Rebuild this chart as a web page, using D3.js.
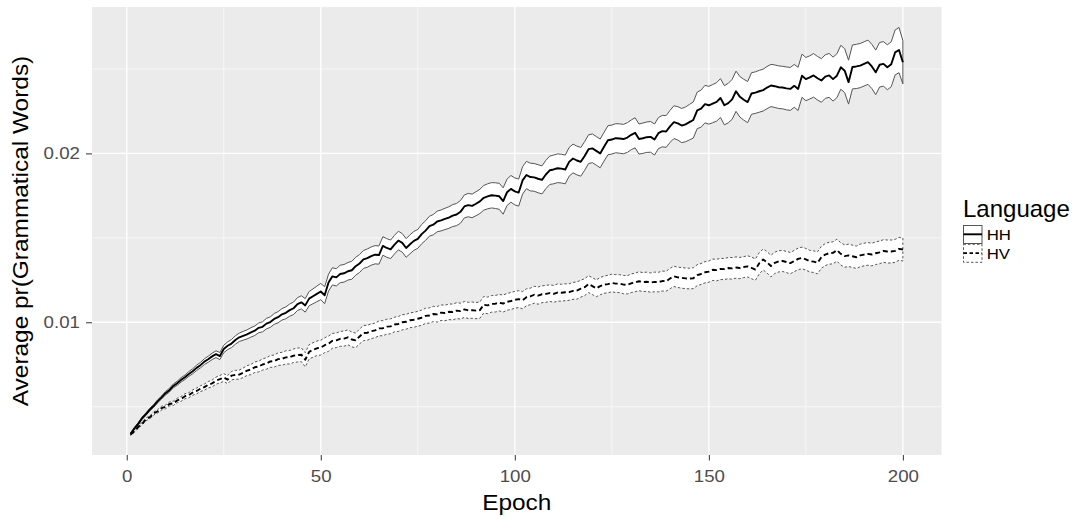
<!DOCTYPE html>
<html><head><meta charset="utf-8">
<script src="https://cdn.jsdelivr.net/npm/d3@7"></script>
<style>
body{margin:0;background:#fff}
text{font-family:"Liberation Sans",Arial,sans-serif}
</style>
</head><body>
<svg id="chart" width="1076" height="519"></svg>
<script>
// ---- data (epochs 1..200) ----
const languages = ["HH", "HV"];
const xTicks = [0, 50, 100, 150, 200];
const xMinorTicks = [25, 75, 125, 175];
const yTicks = [0.01, 0.02];
const yMinorTicks = [0.005, 0.015, 0.025];

const HH_mean = [
.00340,.00372,.00400,.00433,.00457,.00484,.00506,.00533,.00555,.00580,
.00598,.00623,.00639,.00659,.00674,.00694,.00710,.00730,.00746,.00767,
.00781,.00798,.00811,.00800,.00842,.00861,.00874,.00895,.00911,.00920,
.00928,.00940,.00950,.00967,.00973,.00992,.01001,.01020,.01030,.01047,
.01056,.01072,.01083,.01108,.01118,.01100,.01140,.01154,.01168,.01182,
.01160,.01235,.01272,.01266,.01286,.01290,.01302,.01308,.01332,.01348,
.01372,.01380,.01392,.01400,.01398,.01452,.01440,.01432,.01460,.01484,
.01470,.01440,.01462,.01482,.01494,.01522,.01543,.01569,.01578,.01597,
.01603,.01612,.01620,.01632,.01638,.01654,.01686,.01694,.01689,.01702,
.01716,.01737,.01746,.01752,.01750,.01746,.01718,.01770,.01790,.01775,
.01768,.01840,.01872,.01860,.01858,.01850,.01843,.01875,.01900,.01905,
.01912,.01910,.01905,.01950,.01970,.01958,.01950,.01985,.02025,.02030,
.02015,.02000,.02040,.02078,.02082,.02090,.02088,.02085,.02094,.02110,
.02122,.02085,.02090,.02096,.02098,.02082,.02120,.02132,.02130,.02160,
.02185,.02178,.02165,.02172,.02185,.02198,.02255,.02265,.02292,.02285,
.02295,.02305,.02328,.02285,.02298,.02320,.02368,.02335,.02318,.02304,
.02355,.02360,.02368,.02375,.02390,.02402,.02398,.02392,.02390,.02385,
.02382,.02400,.02382,.02460,.02440,.02450,.02462,.02445,.02432,.02455,
.02462,.02440,.02460,.02510,.02490,.02422,.02512,.02515,.02520,.02530,
.02540,.02515,.02480,.02525,.02530,.02510,.02528,.02598,.02612,.02540
];
const HH_se = [
.00005,.00006,.00006,.00007,.00007,.00008,.00008,.00009,.00009,.00010,
.00011,.00011,.00012,.00013,.00013,.00014,.00015,.00016,.00016,.00017,
.00018,.00019,.00020,.00021,.00022,.00023,.00024,.00025,.00025,.00026,
.00027,.00028,.00028,.00029,.00030,.00031,.00031,.00032,.00033,.00034,
.00035,.00036,.00037,.00038,.00039,.00040,.00042,.00044,.00046,.00048,
.00050,.00050,.00051,.00051,.00052,.00052,.00052,.00053,.00053,.00053,
.00053,.00054,.00054,.00054,.00054,.00055,.00055,.00055,.00055,.00055,
.00055,.00055,.00056,.00056,.00056,.00057,.00058,.00059,.00060,.00061,
.00062,.00063,.00064,.00065,.00066,.00067,.00068,.00069,.00070,.00071,
.00072,.00073,.00074,.00075,.00076,.00077,.00078,.00078,.00079,.00080,
.00080,.00081,.00081,.00082,.00082,.00083,.00083,.00084,.00084,.00085,
.00085,.00085,.00085,.00085,.00085,.00085,.00085,.00085,.00085,.00085,
.00085,.00085,.00085,.00086,.00086,.00086,.00087,.00087,.00088,.00088,
.00089,.00089,.00090,.00090,.00091,.00092,.00092,.00093,.00094,.00095,
.00097,.00099,.00101,.00103,.00105,.00107,.00108,.00110,.00111,.00112,
.00113,.00114,.00115,.00116,.00117,.00118,.00119,.00120,.00121,.00122,
.00123,.00123,.00124,.00124,.00125,.00125,.00126,.00126,.00126,.00127,
.00127,.00127,.00128,.00128,.00128,.00128,.00129,.00129,.00129,.00129,
.00130,.00130,.00130,.00130,.00130,.00130,.00130,.00131,.00131,.00131,
.00131,.00131,.00132,.00132,.00132,.00133,.00133,.00133,.00134,.00128
];
const HV_mean = [
.00335,.00356,.00381,.00400,.00426,.00438,.00461,.00473,.00492,.00499,
.00516,.00520,.00537,.00546,.00562,.00568,.00584,.00593,.00607,.00616,
.00630,.00638,.00654,.00663,.00673,.00660,.00684,.00689,.00690,.00701,
.00714,.00720,.00734,.00738,.00750,.00756,.00768,.00770,.00782,.00784,
.00792,.00793,.00802,.00806,.00808,.00778,.00825,.00836,.00846,.00850,
.00864,.00873,.00890,.00893,.00902,.00903,.00911,.00898,.00893,.00916,
.00936,.00938,.00947,.00952,.00964,.00965,.00974,.00976,.00987,.00990,
.01000,.01003,.01012,.01015,.01021,.01027,.01038,.01040,.01049,.01047,
.01057,.01055,.01062,.01061,.01069,.01066,.01076,.01070,.01072,.01069,
.01072,.01104,.01100,.01109,.01110,.01116,.01111,.01121,.01126,.01133,
.01137,.01131,.01148,.01153,.01163,.01158,.01166,.01168,.01173,.01168,
.01176,.01175,.01178,.01179,.01186,.01188,.01199,.01208,.01226,.01214,
.01201,.01214,.01223,.01226,.01233,.01229,.01229,.01223,.01222,.01231,
.01236,.01243,.01238,.01240,.01235,.01239,.01238,.01244,.01243,.01259,
.01272,.01266,.01263,.01260,.01259,.01261,.01279,.01286,.01296,.01300,
.01311,.01309,.01316,.01315,.01321,.01319,.01324,.01321,.01327,.01331,
.01322,.01312,.01350,.01372,.01355,.01333,.01352,.01361,.01363,.01357,
.01350,.01363,.01375,.01381,.01373,.01362,.01359,.01352,.01385,.01401,
.01409,.01411,.01427,.01405,.01392,.01396,.01391,.01385,.01396,.01401,
.01405,.01401,.01409,.01414,.01422,.01419,.01419,.01423,.01435,.01431
];
const HV_se = [
.00005,.00006,.00007,.00007,.00008,.00009,.00009,.00010,.00011,.00011,
.00012,.00013,.00013,.00014,.00015,.00015,.00016,.00017,.00017,.00018,
.00019,.00020,.00021,.00022,.00023,.00024,.00025,.00026,.00027,.00028,
.00029,.00030,.00031,.00032,.00033,.00034,.00035,.00036,.00037,.00038,
.00039,.00040,.00040,.00041,.00041,.00042,.00042,.00043,.00043,.00044,
.00044,.00045,.00044,.00043,.00044,.00045,.00044,.00044,.00043,.00044,
.00045,.00044,.00044,.00043,.00044,.00045,.00044,.00044,.00043,.00044,
.00045,.00044,.00044,.00044,.00044,.00045,.00045,.00045,.00045,.00046,
.00046,.00046,.00046,.00047,.00047,.00047,.00047,.00048,.00048,.00048,
.00048,.00049,.00049,.00049,.00049,.00049,.00050,.00050,.00050,.00050,
.00050,.00051,.00050,.00049,.00050,.00051,.00050,.00050,.00049,.00050,
.00051,.00050,.00050,.00049,.00050,.00051,.00050,.00050,.00050,.00050,
.00050,.00051,.00051,.00052,.00052,.00053,.00053,.00054,.00054,.00055,
.00055,.00056,.00056,.00057,.00057,.00058,.00058,.00059,.00059,.00060,
.00060,.00060,.00061,.00061,.00061,.00062,.00062,.00062,.00063,.00063,
.00063,.00064,.00063,.00062,.00063,.00064,.00063,.00063,.00062,.00063,
.00064,.00063,.00063,.00062,.00063,.00064,.00063,.00063,.00062,.00063,
.00063,.00063,.00064,.00064,.00064,.00064,.00064,.00065,.00065,.00065,
.00065,.00065,.00065,.00066,.00066,.00066,.00066,.00066,.00067,.00067,
.00067,.00067,.00067,.00067,.00067,.00068,.00068,.00068,.00068,.00068
];

// ---- layout ----
const svg = d3.select("#chart");
const P = {left: 92, right: 941.5, top: 7, bottom: 455};
const x = d3.scaleLinear().domain([-8.95, 209.95]).range([P.left, P.right]);
const y = d3.scaleLinear().domain([0.00214, 0.02867]).range([P.bottom, P.top]);

const series = [
  {name: "HH", mean: HH_mean, se: HH_se, dash: null, edgeDash: null},
  {name: "HV", mean: HV_mean, se: HV_se, dash: "5,3", edgeDash: "2.5,2"}
].map(s => ({...s, pts: s.mean.map((m, i) => ({e: i + 1, m, s: s.se[i]}))}));

// panel
svg.append("rect").attr("x", P.left).attr("y", P.top)
  .attr("width", P.right - P.left).attr("height", P.bottom - P.top).attr("fill", "#EBEBEB");

const grid = svg.append("g");
grid.selectAll(".vmin").data(xMinorTicks).join("line")
  .attr("x1", d => x(d)).attr("x2", d => x(d)).attr("y1", P.top).attr("y2", P.bottom)
  .attr("stroke", "#F7F7F7").attr("stroke-width", 1);
grid.selectAll(".hmin").data(yMinorTicks).join("line")
  .attr("y1", d => y(d)).attr("y2", d => y(d)).attr("x1", P.left).attr("x2", P.right)
  .attr("stroke", "#F7F7F7").attr("stroke-width", 1);
grid.selectAll(".vmaj").data(xTicks).join("line")
  .attr("x1", d => x(d)).attr("x2", d => x(d)).attr("y1", P.top).attr("y2", P.bottom)
  .attr("stroke", "#FFFFFF").attr("stroke-width", 1.3);
grid.selectAll(".hmaj").data(yTicks).join("line")
  .attr("y1", d => y(d)).attr("y2", d => y(d)).attr("x1", P.left).attr("x2", P.right)
  .attr("stroke", "#FFFFFF").attr("stroke-width", 1.3);

// ribbons
const area = d3.area().x(d => x(d.e)).y0(d => y(d.m - d.s)).y1(d => y(d.m + d.s));
const line = d3.line().x(d => x(d.e)).y(d => y(d.m));
series.forEach(s => {
  svg.append("path").datum(s.pts).attr("d", area)
    .attr("fill", "#FFFFFF").attr("stroke", "#555555").attr("stroke-width", 1)
    .attr("stroke-dasharray", s.edgeDash);
});
series.forEach(s => {
  svg.append("path").datum(s.pts).attr("d", line)
    .attr("fill", "none").attr("stroke", "#000000").attr("stroke-width", 1.9)
    .attr("stroke-dasharray", s.dash).attr("stroke-linejoin", "round");
});

// axes
const xAxis = svg.append("g").attr("transform", `translate(0,${P.bottom})`)
  .call(d3.axisBottom(x).tickValues(xTicks).tickSize(5.5).tickPadding(9.5).tickFormat(d3.format("d")));
xAxis.select(".domain").remove();
xAxis.selectAll(".tick line").attr("stroke", "#333333").attr("stroke-width", 1);
xAxis.selectAll(".tick text").attr("fill", "#4D4D4D").attr("font-size", 17)
  .attr("font-family", "Liberation Sans, Arial, sans-serif")
  .attr("transform", "scale(1.1,1)").attr("x", 0);
xAxis.selectAll(".tick text").each(function(){ /* keep centered under tick */ });

const yAxis = svg.append("g").attr("transform", `translate(${P.left},0)`)
  .call(d3.axisLeft(y).tickValues(yTicks).tickSize(6).tickPadding(6).tickFormat(d3.format(".2f")));
yAxis.select(".domain").remove();
yAxis.selectAll(".tick line").attr("stroke", "#333333").attr("stroke-width", 1);
yAxis.selectAll(".tick text").attr("fill", "#4D4D4D").attr("font-size", 17)
  .attr("font-family", "Liberation Sans, Arial, sans-serif")
  .attr("x", 0).attr("transform", "translate(-12,0) scale(1.1,1)");

// axis titles
svg.append("text").attr("transform", `translate(${(P.left + P.right) / 2},510) scale(1.11,1)`)
  .attr("text-anchor", "middle").attr("font-size", 22).attr("fill", "#000").text("Epoch");
svg.append("text").attr("transform", `translate(28.3,${(P.top + P.bottom) / 2}) rotate(-90) scale(1.11,1)`)
  .attr("text-anchor", "middle").attr("font-size", 22).attr("fill", "#000").text("Average pr(Grammatical Words)");

// legend
const lg = svg.append("g").attr("transform", "translate(963,0)");
lg.append("text").attr("x", 0).attr("y", 217.3).attr("font-size", 24).attr("fill", "#000").text("Language");
series.forEach((s, i) => {
  const top = 225 + i * 18.8;
  lg.append("rect").attr("x", 0.5).attr("y", top + 0.5).attr("width", 18.5).attr("height", 18)
    .attr("fill", "#FFFFFF").attr("stroke", "#555555").attr("stroke-width", 1)
    .attr("stroke-dasharray", s.edgeDash);
  lg.append("line").attr("x1", 0.5).attr("x2", 19).attr("y1", top + 9.3).attr("y2", top + 9.3)
    .attr("stroke", "#000").attr("stroke-width", 1.9).attr("stroke-dasharray", s.dash ? "3.5,2.5" : null);
  lg.append("text").attr("transform", `translate(23.7,${top + 15}) scale(1.12,1)`)
    .attr("font-size", 15).attr("fill", "#000").text(s.name);
});
</script>
</body></html>
